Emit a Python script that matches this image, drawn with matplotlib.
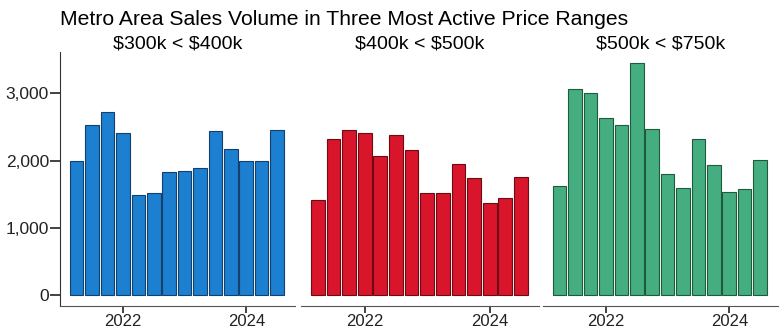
import matplotlib
matplotlib.use("Agg")
import matplotlib.pyplot as plt

plt.rcParams['font.family'] = ['Liberation Sans', 'DejaVu Sans']

quarters = ["2021Q2", "2021Q3", "2021Q4", "2022Q1", "2022Q2", "2022Q3", "2022Q4",
            "2023Q1", "2023Q2", "2023Q3", "2023Q4", "2024Q1", "2024Q2", "2024Q3"]
range_300_400 = [1990, 2525, 2725, 2410, 1495, 1515, 1825, 1845, 1885, 2440, 2180, 1995, 1995, 2455]
range_400_500 = [1410, 2320, 2450, 2415, 2065, 2380, 2160, 1525, 1525, 1955, 1740, 1370, 1445, 1750]
range_500_750 = [1630, 3065, 3000, 2640, 2530, 3455, 2465, 1800, 1590, 2325, 1930, 1530, 1575, 2005]
panel_titles = [r"\$300k < \$400k", r"\$400k < \$500k", r"\$500k < \$750k"]
fill_colors = ["#1c7fcf", "#d8152b", "#45ae80"]
edge_colors = ["#14406e", "#6e0a14", "#1f5a3c"]
year_ticks = [2022, 2024]
y_ticks = [0, 1000, 2000, 3000]
y_tick_labels = ["0", "1,000", "2,000", "3,000"]

x = [int(q[:4]) + (int(q[-1]) - 1) / 4 for q in quarters]
series = [range_300_400, range_400_500, range_500_750]

fig = plt.figure(figsize=(7.8, 3.3), dpi=100)
lefts = [60, 301, 543]
rights = [295, 539, 778]
bottom_px, top_px = 306, 52
W, H = 780, 330

for i in range(3):
    ax = fig.add_axes([lefts[i] / W, 1 - bottom_px / H, (rights[i] - lefts[i]) / W,
                       (bottom_px - top_px) / H])
    ax.bar(x, series[i], width=0.25 * 0.88, color=fill_colors[i],
           edgecolor=edge_colors[i], linewidth=0.8)
    ax.set_xlim(2020.98, 2024.79)
    ax.set_ylim(-160, 3615)
    ax.set_xticks(year_ticks)
    ax.set_xticklabels([str(y) for y in year_ticks], fontsize=12)
    ax.tick_params(axis='x', length=5, width=1.2, pad=1, colors='#222222')
    for s in ['top', 'right']:
        ax.spines[s].set_visible(False)
    ax.spines['bottom'].set_color('#555555')
    if i == 0:
        ax.set_yticks(y_ticks)
        ax.set_yticklabels(y_tick_labels, fontsize=12.5)
        ax.tick_params(axis='y', length=7, width=1.2, pad=1, colors='#222222')
        ax.spines['left'].set_color('#333333')
    else:
        ax.spines['left'].set_visible(False)
        ax.set_yticks([])
    ax.set_title(panel_titles[i], fontsize=14, pad=2)

fig.text(60 / W, 1 - 25 / H, "Metro Area Sales Volume in Three Most Active Price Ranges",
         fontsize=15.2, ha='left', va='baseline')

fig.savefig("out.png", dpi=100)
